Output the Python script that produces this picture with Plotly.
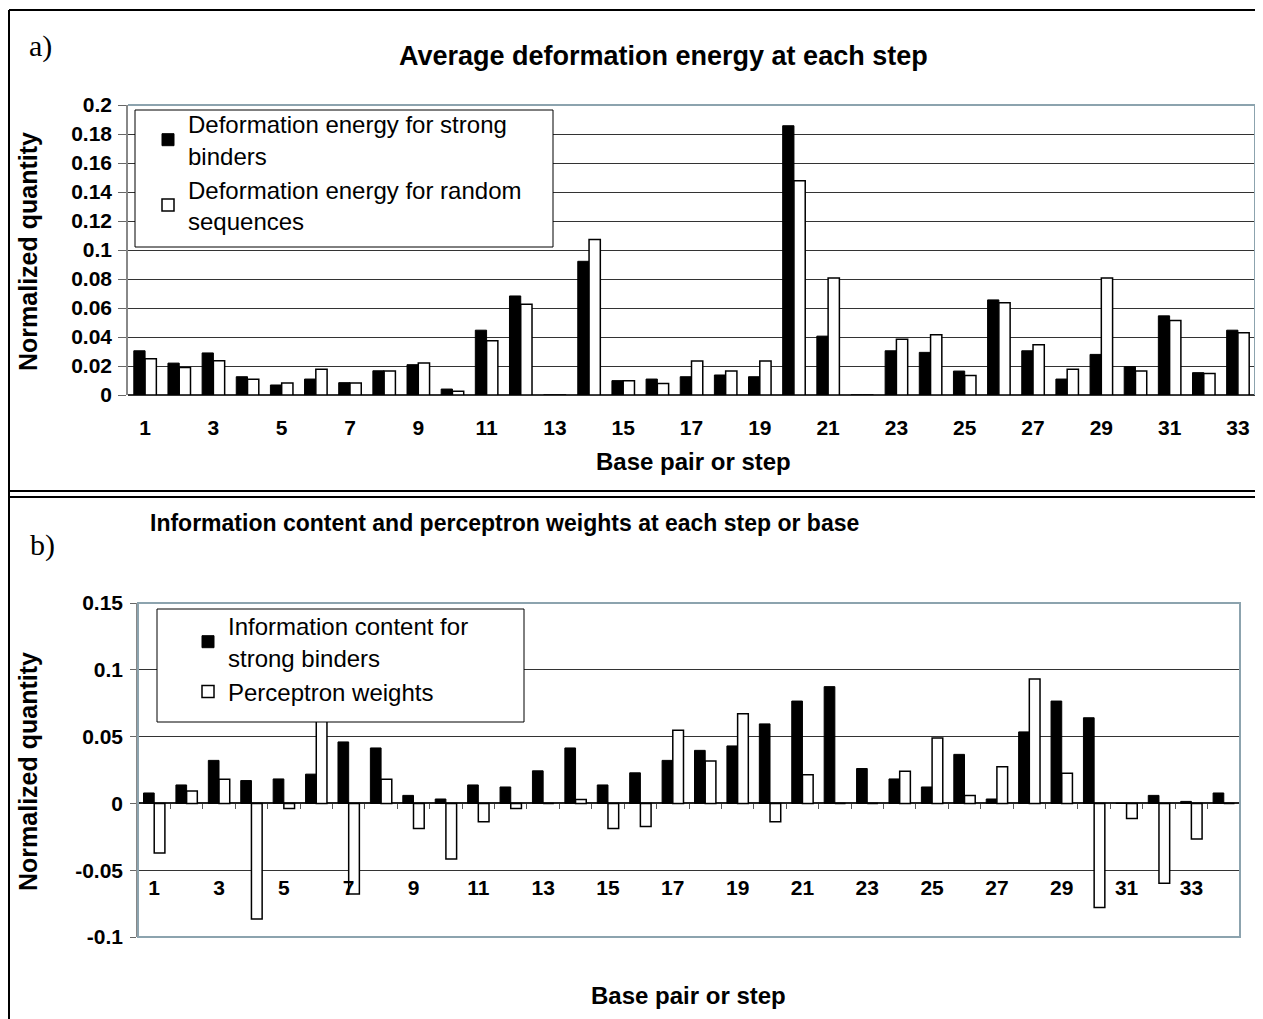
import plotly.graph_objects as go

# ---------------- data ----------------
steps_a = list(range(1, 34))
strong_energy = [0.0305, 0.022, 0.029, 0.0126, 0.0069, 0.011, 0.0085, 0.0167, 0.0209, 0.0041,
                 0.0447, 0.0683, 0.0, 0.0922, 0.0099, 0.011, 0.0126, 0.0138, 0.0126, 0.1857,
                 0.0406, 0.0, 0.0305, 0.0294, 0.0165, 0.0656, 0.0305, 0.011, 0.028, 0.0195,
                 0.0546, 0.0154, 0.0447]
random_energy = [0.025, 0.019, 0.0236, 0.0108, 0.0083, 0.0177, 0.0083, 0.0165, 0.022, 0.0025,
                 0.0374, 0.0626, 0.0, 0.1073, 0.0099, 0.008, 0.0234, 0.0165, 0.0234, 0.1477,
                 0.0807, 0.0, 0.0385, 0.0415, 0.0135, 0.0637, 0.0346, 0.0177, 0.0807, 0.0165,
                 0.0514, 0.0149, 0.0429]

steps_b = list(range(1, 35))
info_content = [0.0078, 0.0138, 0.0322, 0.0171, 0.0183, 0.0219, 0.046, 0.0415, 0.006, 0.0033,
                0.0138, 0.0123, 0.0244, 0.0415, 0.0138, 0.0229, 0.0322, 0.0397, 0.043, 0.0595,
                0.0766, 0.0874, 0.0261, 0.0183, 0.0123, 0.0367, 0.0033, 0.0535, 0.0766, 0.0641,
                0.0, 0.006, 0.0015, 0.0078]
perceptron_w = [-0.0372, 0.0093, 0.0181, -0.0865, -0.0038, 0.07, -0.0678, 0.0181, -0.0188, -0.0417,
                -0.0138, -0.0038, 0.0, 0.003, -0.0188, -0.0173, 0.0548, 0.0317, 0.0671, -0.0138,
                0.0214, 0.0, 0.0, 0.0241, 0.049, 0.006, 0.0274, 0.0932, 0.0226, -0.0779,
                -0.0113, -0.0598, -0.0266, 0.0]

xtick_a = [1, 3, 5, 7, 9, 11, 13, 15, 17, 19, 21, 23, 25, 27, 29, 31, 33]
xtick_b = [1, 3, 5, 7, 9, 11, 13, 15, 17, 19, 21, 23, 25, 27, 29, 31, 33]
ytick_a = [0, 0.02, 0.04, 0.06, 0.08, 0.1, 0.12, 0.14, 0.16, 0.18, 0.2]
ytext_a = ["0", "0.02", "0.04", "0.06", "0.08", "0.1", "0.12", "0.14", "0.16", "0.18", "0.2"]
ytick_b = [-0.1, -0.05, 0, 0.05, 0.1, 0.15]
ytext_b = ["-0.1", "-0.05", "0", "0.05", "0.1", "0.15"]

# ---------------- geometry helpers (screen px -> paper, page has 8px body margin) ----------------
W, H = 1263, 1019
OFF = 8
def px(x):
    return (x - OFF) / W
def py(y):
    return 1 - (y - OFF) / H

FONT = "Arial, Liberation Sans, sans-serif"
SERIF = "Liberation Serif, Times New Roman, serif"
BORDER = "#8ca3ae"

fig = go.Figure()

fig.add_trace(go.Bar(x=steps_a, y=strong_energy, name="Deformation energy for strong<br>binders",
                     marker=dict(color="black", line=dict(color="black", width=1)),
                     xaxis="x", yaxis="y", legend="legend"))
fig.add_trace(go.Bar(x=steps_a, y=random_energy, name="Deformation energy for random<br>sequences",
                     marker=dict(color="white", line=dict(color="black", width=1.5)),
                     xaxis="x", yaxis="y", legend="legend"))
fig.add_trace(go.Bar(x=steps_b, y=info_content, name="Information content for<br>strong binders",
                     marker=dict(color="black", line=dict(color="black", width=1)),
                     xaxis="x2", yaxis="y2", legend="legend2"))
fig.add_trace(go.Bar(x=steps_b, y=perceptron_w, name="Perceptron weights",
                     marker=dict(color="white", line=dict(color="black", width=1.5)),
                     xaxis="x2", yaxis="y2", legend="legend2"))

ya_dom = [py(395), py(105)]
yb_dom = [py(937), py(603)]
yb_range = [-0.1, 0.15]
zero_pos_b = yb_dom[0] + (0 - yb_range[0]) / (yb_range[1] - yb_range[0]) * (yb_dom[1] - yb_dom[0])

tickfont = dict(family=FONT, size=21, color="black", weight="bold")

fig.update_layout(
    width=W, height=H, autosize=False,
    margin=dict(l=0, r=0, t=0, b=0, pad=0),
    paper_bgcolor="white", plot_bgcolor="white",
    barmode="group", bargap=0.34, bargroupgap=0,
    font=dict(family=FONT, color="black"),
    xaxis=dict(domain=[px(128), px(1255)], range=[0.5, 33.5], anchor="y", automargin=False,
               tickmode="array", tickvals=xtick_a, ticktext=[str(v) for v in xtick_a],
               showgrid=False, zeroline=False, showline=False, ticks="",
               tickfont=tickfont, ticklabelstandoff=18),
    yaxis=dict(domain=ya_dom, range=[0, 0.2], anchor="x", automargin=False,
               tickmode="array", tickvals=ytick_a, ticktext=ytext_a,
               showgrid=True, gridcolor="#333333", gridwidth=1,
               zeroline=True, zerolinecolor="#333333", zerolinewidth=1.5,
               showline=True, linecolor="#888888", linewidth=1.5,
               ticks="outside", ticklen=8, tickcolor="#666666",
               tickfont=tickfont, ticklabelstandoff=2),
    xaxis2=dict(domain=[px(138), px(1240)], range=[0.5, 34.5], anchor="free", position=zero_pos_b,
                automargin=False,
                tickmode="array", tickvals=xtick_b, ticktext=[str(v) for v in xtick_b],
                showgrid=False, zeroline=False, showline=False, ticks="",
                minor=dict(ticks="outside", ticklen=5, tickcolor="#555555", tick0=0.5, dtick=1,
                           showgrid=False),
                tickfont=tickfont, ticklabelstandoff=70),
    yaxis2=dict(domain=yb_dom, range=yb_range, anchor="x2", automargin=False,
                tickmode="array", tickvals=ytick_b, ticktext=ytext_b,
                showgrid=True, gridcolor="#333333", gridwidth=1,
                zeroline=True, zerolinecolor="#222222", zerolinewidth=1.5,
                showline=True, linecolor="#888888", linewidth=1.5,
                ticks="outside", ticklen=6, tickcolor="#666666",
                tickfont=tickfont, ticklabelstandoff=3),
    legend=dict(x=px(148), y=py(102), xanchor="left", yanchor="top",
                bgcolor="rgba(0,0,0,0)", borderwidth=0,
                font=dict(family=FONT, size=24, color="black"), tracegroupgap=0),
    legend2=dict(x=px(188), y=py(604), xanchor="left", yanchor="top",
                 bgcolor="rgba(0,0,0,0)", borderwidth=0,
                 font=dict(family=FONT, size=24, color="black"), tracegroupgap=0),
    showlegend=True,
)

shapes = []
# outer panel frames
shapes.append(dict(type="line", xref="paper", yref="paper", x0=px(9), x1=1, y0=py(10), y1=py(10),
                   line=dict(color="black", width=2)))
shapes.append(dict(type="line", xref="paper", yref="paper", x0=px(9), x1=px(9), y0=py(10), y1=0,
                   line=dict(color="black", width=2)))
shapes.append(dict(type="line", xref="paper", yref="paper", x0=px(9), x1=1, y0=py(491), y1=py(491),
                   line=dict(color="black", width=2)))
shapes.append(dict(type="line", xref="paper", yref="paper", x0=px(9), x1=1, y0=py(497), y1=py(497),
                   line=dict(color="black", width=2)))
# plot area borders
shapes.append(dict(type="line", xref="paper", yref="paper", x0=px(128), x1=px(1255), y0=py(105), y1=py(105),
                   line=dict(color=BORDER, width=2), layer="above"))
shapes.append(dict(type="line", xref="paper", yref="paper", x0=px(1255), x1=px(1255), y0=py(105), y1=py(395),
                   line=dict(color=BORDER, width=2), layer="above"))
shapes.append(dict(type="rect", xref="paper", yref="paper", x0=px(138), x1=px(1240), y0=py(937), y1=py(603),
                   line=dict(color=BORDER, width=2), layer="above"))
# legend boxes
shapes.append(dict(type="rect", xref="paper", yref="paper", x0=px(135), x1=px(553), y0=py(247), y1=py(110),
                   line=dict(color="black", width=1), fillcolor="white", layer="above"))
shapes.append(dict(type="rect", xref="paper", yref="paper", x0=px(157), x1=px(524), y0=py(722), y1=py(609),
                   line=dict(color="black", width=1), fillcolor="white", layer="above"))
fig.update_layout(shapes=shapes)

bold = dict(family=FONT, color="black", weight="bold")
ann = [
    dict(text="a)", x=px(40), y=py(46), font=dict(family=SERIF, size=30, color="black")),
    dict(text="Average deformation energy at each step", x=px(663), y=py(56), font=dict(bold, size=27)),
    dict(text="Normalized quantity", x=px(28), y=py(252), textangle=-90, font=dict(bold, size=25)),
    dict(text="Base pair or step", x=px(693), y=py(461), font=dict(bold, size=24)),
    dict(text="b)", x=px(42), y=py(545), font=dict(family=SERIF, size=30, color="black")),
    dict(text="Information content and perceptron weights at each step or base", x=px(148), y=py(523),
         xanchor="left", font=dict(bold, size=23)),
    dict(text="Normalized quantity", x=px(28), y=py(772), textangle=-90, font=dict(bold, size=25)),
    dict(text="Base pair or step", x=px(688), y=py(995), font=dict(bold, size=24)),
]
for a in ann:
    a.setdefault("xanchor", "center")
    a.update(xref="paper", yref="paper", yanchor="middle", showarrow=False)
fig.update_layout(annotations=ann)

fig.write_html("out.html")
